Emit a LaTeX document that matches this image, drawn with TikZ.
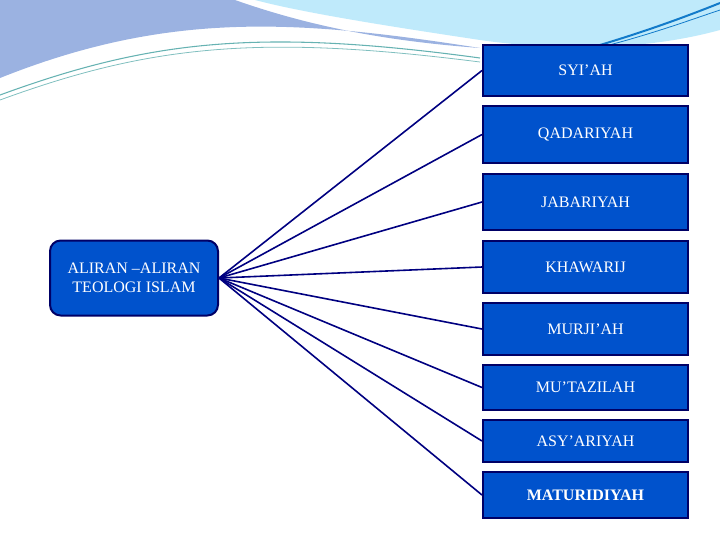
\documentclass[tikz,border=0pt]{standalone}
\usepackage{fontspec}
\setmainfont{Liberation Serif}
\begin{document}
\begin{tikzpicture}[x=0.75pt,y=-0.75pt,
  cat/.style={draw=blue!40!black,line width=1.5pt,fill=blue!60!cyan!80!black,text=white,minimum width=205*0.75pt,inner sep=0pt,font=\fontsize{12}{14}\selectfont},
  link/.style={draw=blue!50!black,line width=1.2pt}]
\useasboundingbox (0,0) rectangle (720,540);
\fill[cyan!45!blue!40] (0,0)--(235,0) .. controls (320,30) and (400,42) .. (480,48) .. controls (300,20) and (170,10) .. (0,78) -- cycle;
\fill[cyan!25] (255,0)--(720,0)--(720,30) .. controls (640,52) and (550,50) .. (480,40) .. controls (380,25) and (300,12) .. (255,0);
\draw[teal!60,line width=0.8pt] (0,95) .. controls (150,40) and (260,28) .. (480,58);
\draw[teal!50,line width=0.6pt] (0,100) .. controls (150,45) and (260,34) .. (480,62);
\draw[cyan!60!blue,line width=1.5pt] (600,45) .. controls (650,30) and (690,15) .. (720,3);
\draw[cyan!60!blue,line width=0.6pt] (590,50) .. controls (650,35) and (690,20) .. (720,10);
\node[cat,rounded corners=8pt,minimum width=168*0.75pt,minimum height=75*0.75pt,align=center] (src) at (134,278) {ALIRAN –ALIRAN\\TEOLOGI ISLAM};
\foreach \n/\t/\a/\b in {a/SYI’AH/45/96,b/QADARIYAH/106/163,c/JABARIYAH/174/230,d/KHAWARIJ/241/293,e/MURJI’AH/303/355,f/MU’TAZILAH/365/410,g/ASY’ARIYAH/420/462}{
  \node[cat,minimum height={(\b-\a)*0.75pt}] (\n) at (585.5,{(\a+\b)/2}) {\t};
  \draw[link] (src.east) -- (\n.west);
}
\node[cat,minimum height=34.5pt,font=\bfseries\fontsize{12}{14}\selectfont] (h) at (585.5,495) {MATURIDIYAH};
\draw[link] (src.east) -- (h.west);
\end{tikzpicture}
\end{document}
